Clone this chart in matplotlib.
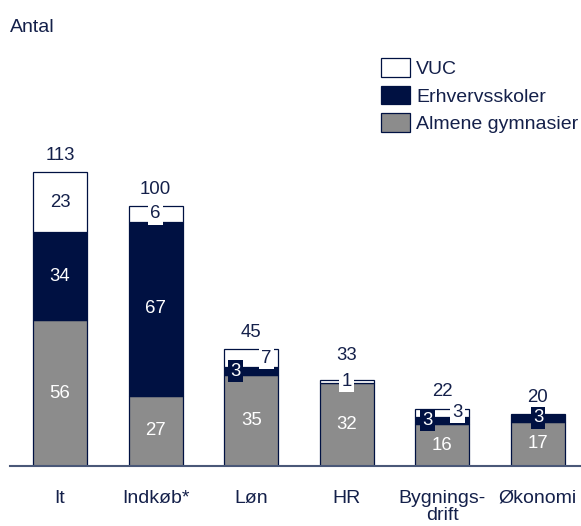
import numpy as np
import matplotlib.pyplot as plt
from matplotlib.patches import Patch

# Antal medarbejdere fordelt på område og skoletype
categories = ['It', 'Indkøb*', 'Løn', 'HR', 'Bygnings-\ndrift', 'Økonomi']
almene = [56, 27, 35, 32, 16, 17]
erhverv = [34, 67, 3, 0, 3, 3]
vuc = [23, 6, 7, 1, 3, 0]
totals = [113, 100, 45, 33, 22, 20]

NAVY = '#001142'
GREY = '#8c8c8c'
TXT = '#14204a'
SMALL = 10

plt.rcParams['font.family'] = ['Liberation Sans', 'DejaVu Sans']
FS = 14      # text
FN = 13.4    # numbers

fig = plt.figure(figsize=(5.81, 5.26), dpi=100)
ax = fig.add_axes([10 / 581, 60 / 526, 571 / 581, 416 / 526])

x = np.arange(len(categories))
w = 0.565
a = np.array(almene)
e = np.array(erhverv)
v = np.array(vuc)

series = [
    (a, np.zeros(len(a)), GREY, 'white', 'Almene gymnasier'),
    (e, a, NAVY, 'white', 'Erhvervsskoler'),
    (v, a + e, 'white', TXT, 'VUC'),
]

for vals, base, fc, tc, name in series:
    mask = vals > 0
    ax.bar(x[mask], vals[mask], w, bottom=base[mask], color=fc,
           edgecolor=NAVY, linewidth=0.9, zorder=2)

# segment labels; small segments get a box in the segment colour
for vals, base, fc, tc, name in series:
    for i in range(len(x)):
        if vals[i] == 0:
            continue
        xi = x[i]
        small = vals[i] < SMALL
        if name != 'Almene gymnasier' and e[i] and v[i] and e[i] < SMALL and v[i] < SMALL:
            xi += -0.16 if name == 'Erhvervsskoler' else 0.16
        box = dict(boxstyle='square,pad=0.12', fc=fc, ec='none') if small else None
        ax.text(xi, base[i] + vals[i] / 2, str(vals[i]), ha='center', va='center',
                color=tc, fontsize=FN, bbox=box, zorder=4)

# totals above the bars; a tiny top segment has its label box poking out, so lift more
for i, t in enumerate(totals):
    lift = 3 if 0 < v[i] < 2 else 0
    ax.annotate(str(t), (x[i], t + lift), xytext=(0, 6), textcoords='offset points',
                ha='center', va='bottom', color=TXT, fontsize=FN)

ax.set_xlim(-0.523, 5.45)
ax.set_ylim(0, 160)
ax.set_yticks([])
ax.set_xticks(x)
ax.set_xticklabels(categories, fontsize=FS, color=TXT, linespacing=1.0)
ax.tick_params(axis='x', length=0, pad=17)
for s in ['top', 'right', 'left']:
    ax.spines[s].set_visible(False)
ax.spines['bottom'].set_color('#4a5878')
ax.spines['bottom'].set_linewidth(1.5)

fig.text(10 / 581, 1 - 27 / 526, 'Antal', fontsize=FS, color=TXT, va='center')

handles = [
    Patch(fc='white', ec=NAVY, lw=0.9, label='VUC'),
    Patch(fc=NAVY, ec=NAVY, lw=0.9, label='Erhvervsskoler'),
    Patch(fc=GREY, ec=NAVY, lw=0.9, label='Almene gymnasier'),
]
fig.legend(handles=handles, loc='upper left', bbox_to_anchor=(381 / 581, 1 - 58 / 526),
           frameon=False, fontsize=14.0, handlelength=1.5, handleheight=1.1,
           handletextpad=0.3, labelspacing=0.4, borderaxespad=0, borderpad=0,
           labelcolor=TXT)

fig.savefig('out.png', dpi=100)
